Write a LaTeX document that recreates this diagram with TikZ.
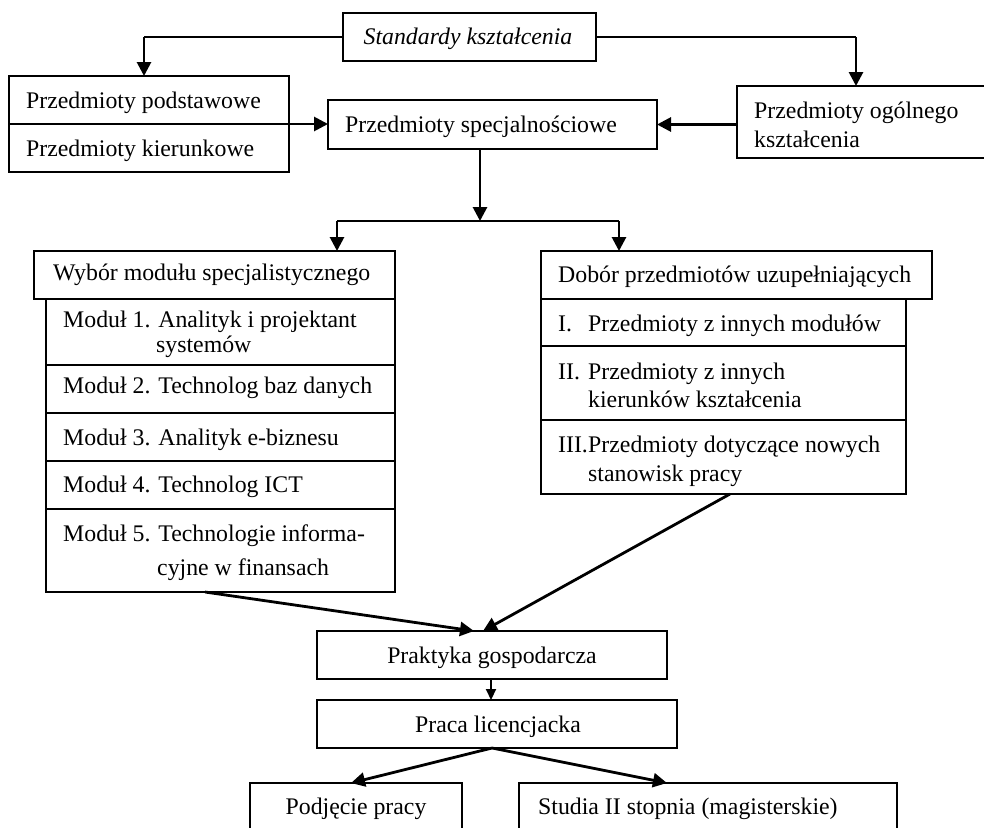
\documentclass[tikz,border=0pt]{standalone}
\usepackage{fontspec}
\setmainfont{Liberation Serif}
\usetikzlibrary{arrows.meta,calc}
\begin{document}
\begin{tikzpicture}[x=1pt,y=-1pt,
  box/.style={draw,line width=1.5pt,inner sep=0pt,outer sep=0pt,anchor=north west},
  txt/.style={anchor=base west,inner sep=0pt,font=\fontsize{23.8}{28}\selectfont},
  ctxt/.style={anchor=base,inner sep=0pt,font=\fontsize{23.8}{28}\selectfont},
  arr/.style={line width=2.8pt,-{Triangle[width=14pt,length=14pt]}},
  arrsmall/.style={line width=2pt,-{Triangle[width=10pt,length=11pt]}},
  link/.style={line width=2pt}]
\useasboundingbox (0,0) rectangle (984,827);
\clip (0,0) rectangle (984,827);
% boxes
\node[box,minimum width=253pt,minimum height=48pt] (std) at (343,13) {};
\node[box,minimum width=280pt,minimum height=48pt] (pod) at (9,76) {};
\node[box,minimum width=280pt,minimum height=48pt] (kier) at (9,124) {};
\node[box,minimum width=329pt,minimum height=49pt] (spec) at (328,100) {};
\node[box,minimum width=260pt,minimum height=72pt] (ogol) at (737,86) {};
\node[box,minimum width=361pt,minimum height=48pt] (wyb) at (34,251) {};
\node[box,minimum width=349pt,minimum height=66pt] (m1) at (46,299) {};
\node[box,minimum width=349pt,minimum height=48pt] (m2) at (46,365) {};
\node[box,minimum width=349pt,minimum height=48pt] (m3) at (46,413) {};
\node[box,minimum width=349pt,minimum height=48pt] (m4) at (46,461) {};
\node[box,minimum width=349pt,minimum height=83pt] (m5) at (46,509) {};
\node[box,minimum width=391pt,minimum height=48pt] (dob) at (541,251) {};
\node[box,minimum width=365pt,minimum height=47pt] (r1) at (541,299) {};
\node[box,minimum width=365pt,minimum height=74pt] (r2) at (541,346) {};
\node[box,minimum width=365pt,minimum height=74pt] (r3) at (541,420) {};
\node[box,minimum width=350pt,minimum height=48pt] (prak) at (317,631) {};
\node[box,minimum width=360pt,minimum height=48pt] (praca) at (317,700) {};
\node[box,minimum width=212pt,minimum height=70pt] (podj) at (250,783) {};
\node[box,minimum width=378pt,minimum height=70pt] (stud) at (519,783) {};
% texts
\node[ctxt] (tstd) at (468,44) {\itshape Standardy kształcenia};
\node[txt] (tpod) at (26,108) {Przedmioty podstawowe};
\node[txt] (tkier) at (26,156) {Przedmioty kierunkowe};
\node[txt] (tspec) at (345,132) {Przedmioty specjalnościowe};
\node[txt] (tog1) at (754,118) {Przedmioty ogólnego};
\node[txt] (tog2) at (754,147) {kształcenia};
\node[txt] (twyb) at (53,280) {Wybór modułu specjalistycznego};
\node[txt] (tm1a) at (63,327) {Moduł 1. Analityk i projektant};
\node[txt] (tm1b) at (156,352) {systemów};
\node[txt] (tm2) at (63,393) {Moduł 2. Technolog baz danych};
\node[txt] (tm3) at (63,445) {Moduł 3. Analityk e-biznesu};
\node[txt] (tm4) at (63,492) {Moduł 4. Technolog ICT};
\node[txt] (tm5a) at (63,541) {Moduł 5. Technologie informa-};
\node[txt] (tm5b) at (157,575) {cyjne w finansach};
\node[txt] (tdob) at (558,282) {Dobór przedmiotów uzupełniających};
\node[txt] (tr1n) at (558,331) {I.};
\node[txt] (tr1) at (588,331) {Przedmioty z innych modułów};
\node[txt] (tr2n) at (558,379) {II.};
\node[txt] (tr2a) at (588,379) {Przedmioty z innych};
\node[txt] (tr2b) at (588,407) {kierunków kształcenia};
\node[txt] (tr3n) at (558,452) {III.};
\node[txt] (tr3a) at (588,452) {Przedmioty dotyczące nowych};
\node[txt] (tr3b) at (588,481) {stanowisk pracy};
\node[ctxt] (tprak) at (492,663) {Praktyka gospodarcza};
\node[ctxt] (tpraca) at (498,732) {Praca licencjacka};
\node[ctxt] (tpodj) at (356,814) {Podjęcie pracy};
\node[txt] (tstud) at (538,814) {Studia II stopnia (magisterskie)};
% connector points
\coordinate (podtop) at (144,76);
\coordinate (ogtop) at (856,86);
\coordinate (split) at (480,221);
\coordinate (sl) at (337,221);
\coordinate (sr) at (619,221);
\coordinate (m5out) at (205,592);
\coordinate (pin1) at (474,631);
\coordinate (r3out) at (730,494);
\coordinate (pin2) at (483,631);
\coordinate (prout) at (491,679);
\coordinate (pcout) at (492,748);
\coordinate (podjin) at (351,783);
\coordinate (studin) at (667,783);
% connectors
\draw[link] (std.west) -- (std.west -| podtop);
\draw[arr] (std.west -| podtop) -- (podtop);
\draw[link] (std.east) -- (std.east -| ogtop);
\draw[arr] (std.east -| ogtop) -- (ogtop);
\draw[arr] (pod.south east) -- (spec.west |- pod.south east);
\draw[arr] (ogol.west |- spec.east) -- (spec.east);
\draw[arr] (spec.south -| split) -- (split);
\draw[link] (sl) -- (sr);
\draw[arr] (sl) -- (sl |- wyb.north);
\draw[arr] (sr) -- (sr |- dob.north);
\draw[arr] (m5out) -- (pin1);
\draw[arr] (r3out) -- (pin2);
\draw[arrsmall] (prout) -- (prout |- praca.north);
\draw[arr] (pcout) -- (podjin);
\draw[arr] (pcout) -- (studin);
\end{tikzpicture}
\end{document}
